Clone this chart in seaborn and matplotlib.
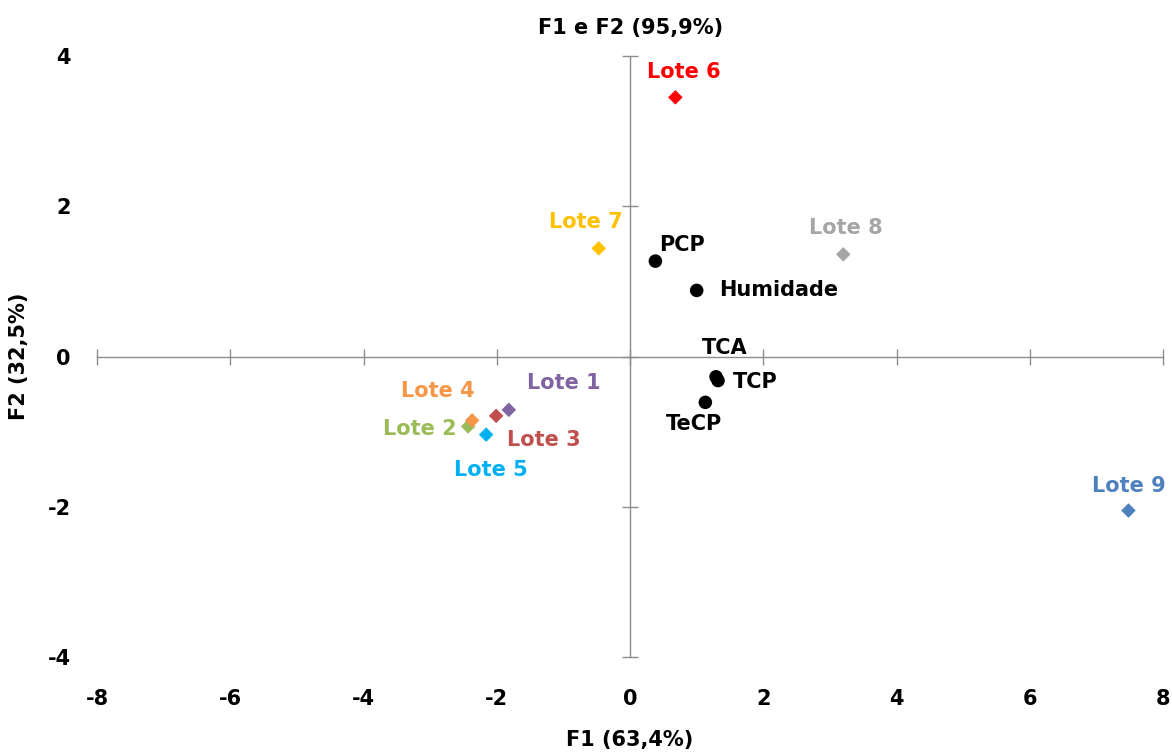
import matplotlib
matplotlib.use("Agg")
import matplotlib.pyplot as plt
import seaborn as sns
import pandas as pd

# PCA scores of the batches (observations)
lotes = ["Lote 1", "Lote 2", "Lote 3", "Lote 4", "Lote 5",
         "Lote 6", "Lote 7", "Lote 8", "Lote 9"]
lote_f1 = [-1.82, -2.43, -2.01, -2.37, -2.16, 0.68, -0.47, 3.20, 7.48]
lote_f2 = [-0.71, -0.93, -0.79, -0.85, -1.04, 3.45, 1.44, 1.36, -2.05]

# PCA loadings of the variables
variaveis = ["PCP", "Humidade", "TCA", "TCP", "TeCP"]
var_f1 = [0.38, 1.00, 1.29, 1.32, 1.13]
var_f2 = [1.27, 0.88, -0.27, -0.32, -0.61]

x_ticks = [-8, -6, -4, -2, 0, 2, 4, 6, 8]
y_ticks = [-4, -2, 0, 2, 4]

titulo = "F1 e F2 (95,9%)"
eixo_x = "F1 (63,4%)"
eixo_y = "F2 (32,5%)"

cores = {
    "Lote 1": "#8064A2", "Lote 2": "#9BBB59", "Lote 3": "#C0504D",
    "Lote 4": "#F79646", "Lote 5": "#00B0F0", "Lote 6": "#FF0000",
    "Lote 7": "#FFC000", "Lote 8": "#A5A5A5", "Lote 9": "#4F81BD",
}

# label offsets in pixels (dx, dy) relative to each marker
offs_lote = {
    "Lote 1": (55, 27), "Lote 2": (-48, -3), "Lote 3": (48, -24),
    "Lote 4": (-34, 29), "Lote 5": (5, -35), "Lote 6": (8, 25),
    "Lote 7": (-13, 26), "Lote 8": (3, 26), "Lote 9": (0, 25),
}
offs_var = {
    "PCP": (27, 16), "Humidade": (82, 0), "TCA": (9, 29),
    "TCP": (37, -1), "TeCP": (-11, -22),
}

AXIS_GREY = "#8C8C8C"

sns.set_theme(style="white")
plt.rcParams["font.family"] = ["DejaVu Sans"]
plt.rcParams["font.weight"] = "bold"
plt.rcParams["text.color"] = "black"
plt.rcParams["axes.labelcolor"] = "black"

fig = plt.figure(figsize=(11.72, 7.52), dpi=100)
ax = fig.add_axes([0.0828, 0.1263, 0.9096, 0.7992])

df_l = pd.DataFrame({"F1": lote_f1, "F2": lote_f2, "nome": lotes})
df_v = pd.DataFrame({"F1": var_f1, "F2": var_f2, "nome": variaveis})

sns.scatterplot(data=df_l, x="F1", y="F2", hue="nome", palette=cores,
                marker="D", s=55, edgecolor="none", legend=False, ax=ax, zorder=3)
sns.scatterplot(data=df_v, x="F1", y="F2", color="black",
                marker="o", s=95, edgecolor="none", legend=False, ax=ax, zorder=3)

for nome, x, y in zip(lotes, lote_f1, lote_f2):
    dx, dy = offs_lote[nome]
    ax.annotate(nome, (x, y), xytext=(dx, dy), textcoords="offset pixels",
                ha="center", va="center", color=cores[nome],
                fontsize=15, fontweight="bold")
for nome, x, y in zip(variaveis, var_f1, var_f2):
    dx, dy = offs_var[nome]
    ax.annotate(nome, (x, y), xytext=(dx, dy), textcoords="offset pixels",
                ha="center", va="center", color="black",
                fontsize=15, fontweight="bold")

ax.set_xlim(x_ticks[0], x_ticks[-1])
ax.set_ylim(y_ticks[0], y_ticks[-1])
ax.set_xticks(x_ticks)
ax.set_yticks(y_ticks)
ax.set_xticklabels([str(v) for v in x_ticks], fontsize=15, fontweight="bold")
ax.set_yticklabels([str(v) for v in y_ticks], fontsize=15, fontweight="bold")
ax.tick_params(axis="both", length=0, colors="black")
ax.tick_params(axis="x", pad=23)
ax.tick_params(axis="y", pad=19)
for sp in ax.spines.values():
    sp.set_visible(False)

# axes crossing at the origin
sec_x = ax.secondary_xaxis(0.5)
sec_x.set_xticks(x_ticks)
sec_x.set_xticklabels([])
sec_x.tick_params(direction="inout", length=12, width=1, color=AXIS_GREY)
for sp in sec_x.spines.values():
    sp.set_color(AXIS_GREY)
    sp.set_linewidth(1)
sec_y = ax.secondary_yaxis(0.5)
sec_y.set_yticks(y_ticks)
sec_y.set_yticklabels([])
sec_y.tick_params(direction="inout", length=12, width=1, color=AXIS_GREY)
for sp in sec_y.spines.values():
    sp.set_color(AXIS_GREY)
    sp.set_linewidth(1)

ax.set_xlabel(eixo_x, fontsize=15, fontweight="bold", labelpad=15, color="black")
ax.set_ylabel(eixo_y, fontsize=15, fontweight="bold", labelpad=13, color="black")
ax.set_title(titulo, fontsize=15, fontweight="bold", pad=16, color="black")

fig.savefig("out.png", dpi=100)
